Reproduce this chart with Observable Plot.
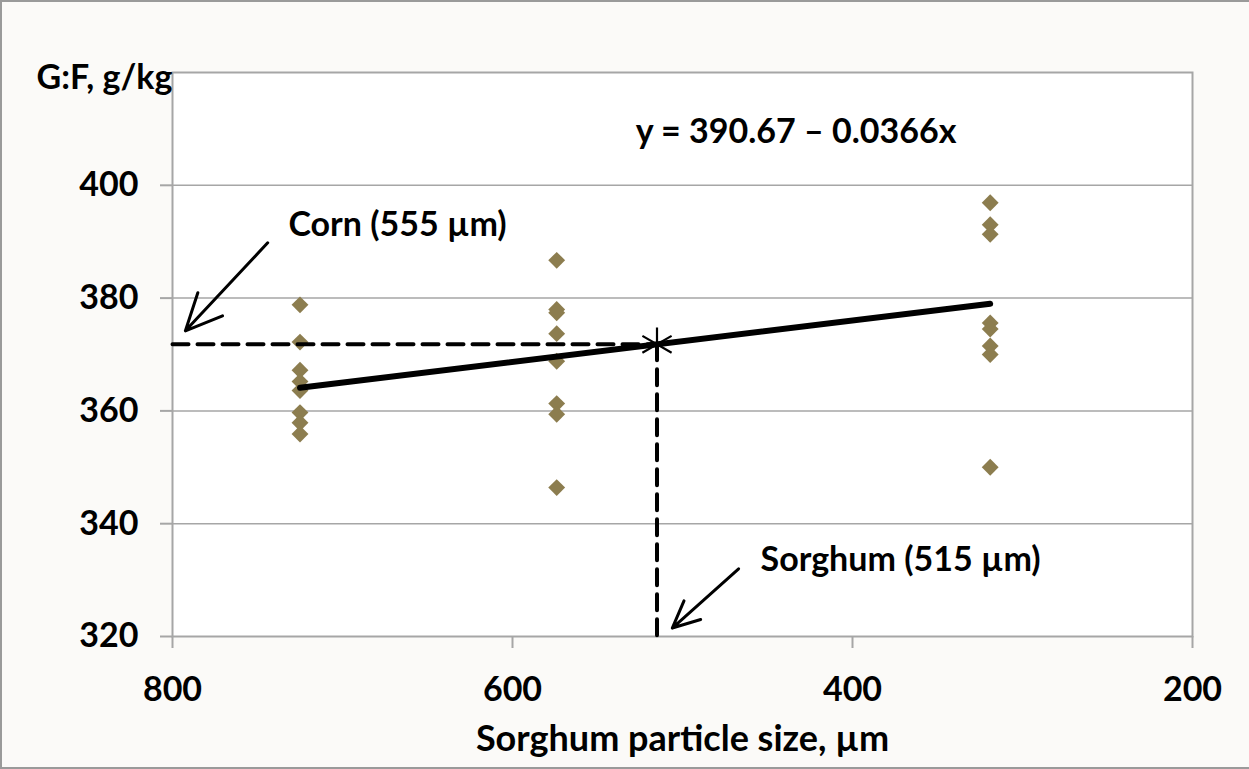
<!DOCTYPE html>
<html><head><meta charset="utf-8">
<script src="https://cdn.jsdelivr.net/npm/d3@7"></script>
<script src="https://cdn.jsdelivr.net/npm/@observablehq/plot@0.6"></script>
<style>
body{margin:0;background:#fbfaf8;}
#wrap{position:relative;width:1249px;height:769px;overflow:hidden;}
#wrap svg{display:block;}
#border{position:absolute;left:0;top:0;width:1249px;height:769px;box-sizing:border-box;border:2px solid #9a9a9a;border-right:none;pointer-events:none;}
</style></head><body><div id="wrap"><div id="border"></div></div>
<script>
// Sorghum particle sizes (µm) of the three treatment groups
const groupSizes = [725, 574, 319];
// G:F (g/kg) observations read from each group
const gf725 = [378.8, 372.2, 367.2, 365.2, 363.6, 359.7, 357.9, 355.9];
const gf574 = [386.7, 378.0, 377.4, 373.7, 368.8, 361.3, 359.4, 346.4];
const gf319 = [396.9, 393.0, 391.3, 375.6, 374.5, 371.5, 370.0, 350.0];
// Regression line endpoints (y = 390.67 – 0.0366x)
const fitSize = [725, 319];
const fitGF = [364.1, 379.0];
// Cross point: sorghum 515 µm equals corn 555 µm
const crossSize = 515;
const crossGF = 371.8;
// Axis ticks
const xTicks = [800, 600, 400, 200];
const yTicks = [320, 340, 360, 380, 400];
// Annotations
const eqText = "y = 390.67 – 0.0366x";
const cornLabel = "Corn (555 µm)";
const sorghumLabel = "Sorghum (515 µm)";
const yLabel = "G:F, g/kg";
const xLabel = "Sorghum particle size, µm";
const arrowStart = [[744, 389.8], [467, 332.0]];
const arrowEnd = [[792.4, 374.2], [506, 321.5]];

const points = [];
[gf725, gf574, gf319].forEach((arr, i) => arr.forEach(v => points.push({size: groupSizes[i], gf: v})));
const fit = fitSize.map((s, i) => ({size: s, gf: fitGF[i]}));
const arrows = arrowStart.map((s, i) => ({x1: s[0], y1: s[1], x2: arrowEnd[i][0], y2: arrowEnd[i][1]}));

const font = "Lato, 'Open Sans', sans-serif";
const fs = 34;

const chart = Plot.plot({
  width: 1249,
  height: 769,
  marginLeft: 172,
  marginRight: 57,
  marginTop: 72,
  marginBottom: 133,
  style: {background: "transparent", fontFamily: font, fontSize: fs + "px", fontWeight: "bold", color: "#000"},
  x: {domain: [800, 200], ticks: xTicks, label: null, tickFormat: d3.format("d")},
  y: {domain: [320, 420], ticks: yTicks, label: null, tickFormat: d3.format("d")},
  marks: [
    Plot.frame({fill: "white", stroke: "none"}),
    Plot.gridY(yTicks.filter(t => t > 320), {stroke: "#a6a6a6", strokeOpacity: 1, strokeWidth: 1.5}),
    Plot.frame({stroke: "#a6a6a6", strokeWidth: 2}),
    Plot.axisX({ticks: xTicks, tickSize: 12, tickPadding: 28, stroke: "#a6a6a6", strokeWidth: 2, fontSize: fs, fontWeight: "bold", tickFormat: d3.format("d"), label: null}),
    Plot.axisY({ticks: yTicks, tickSize: 12, tickPadding: 22, stroke: "#a6a6a6", strokeWidth: 2, fontSize: fs, fontWeight: "bold", tickFormat: d3.format("d"), label: null}),
    Plot.dot(points, {x: "size", y: "gf", symbol: "diamond2", r: 7.6, fill: "#8c7d4f", stroke: "none"}),
    Plot.line(fit, {x: "size", y: "gf", stroke: "black", strokeWidth: 6, strokeLinecap: "round"}),
    Plot.line([{size: 800, gf: crossGF}, {size: crossSize, gf: crossGF}], {x: "size", y: "gf", stroke: "black", strokeWidth: 4, strokeDasharray: "16,9"}),
    Plot.line([{size: crossSize, gf: crossGF}, {size: crossSize, gf: 320}], {x: "size", y: "gf", stroke: "black", strokeWidth: 4, strokeDasharray: "16,9"}),
    Plot.dot([{size: crossSize, gf: crossGF}], {x: "size", y: "gf", symbol: "asterisk", r: 16, stroke: "black", strokeWidth: 2.2}),
    Plot.arrow(arrows, {x1: "x1", y1: "y1", x2: "x2", y2: "y2", stroke: "black", strokeWidth: 3, headLength: 20, headAngle: 50}),
    Plot.text([eqText], {x: 433.2, y: 409.4, text: d => d, fontSize: fs, fontWeight: "bold", textAnchor: "middle", fill: "black"}),
    Plot.text([cornLabel], {x: 731.8, y: 392.9, text: d => d, fontSize: fs, fontWeight: "bold", textAnchor: "start", fill: "black"}),
    Plot.text([sorghumLabel], {x: 454.1, y: 333.6, text: d => d, fontSize: fs, fontWeight: "bold", textAnchor: "start", fill: "black"}),
    Plot.text([yLabel], {frameAnchor: "top-left", dx: -136, dy: -8, text: d => d, fontSize: fs, fontWeight: "bold", textAnchor: "start", fill: "black"}),
    Plot.text([xLabel], {frameAnchor: "bottom", dy: 114, text: d => d, fontSize: 36, fontWeight: "bold", textAnchor: "middle", fill: "black"})
  ]
});
document.getElementById("wrap").prepend(chart);
</script>
</body></html>
